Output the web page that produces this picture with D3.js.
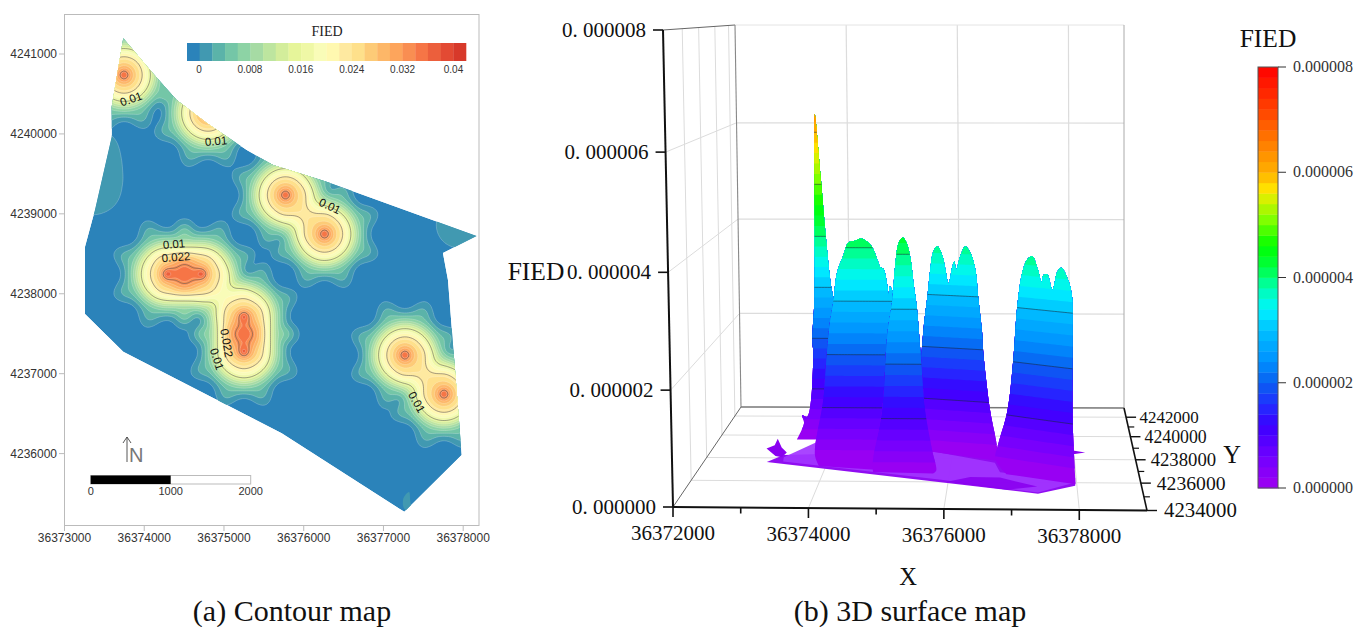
<!DOCTYPE html>
<html><head><meta charset="utf-8">
<script src="https://cdn.jsdelivr.net/npm/d3@7/dist/d3.min.js"></script>
<style>html,body{margin:0;padding:0;background:#fff;overflow:hidden}svg{display:block}
.sans{font-family:"Liberation Sans",Arial,sans-serif}.serif{font-family:"Liberation Serif","Times New Roman",serif}</style>
</head><body><svg id="c" width="1357" height="627"></svg>
<script>
// ---------- (a) contour map data ----------
const mapXTicks=[36373000,36374000,36375000,36376000,36377000,36378000];
const mapYTicks=[4236000,4237000,4238000,4239000,4240000,4241000];
const boundaryX=[36373737,36374072,36374407,36374783,36375285,36375615,36376288,36378169,36377746,36377809,36377981,36377261,36375724,36373737,36373257,36373257,36373382,36373592,36373592];
const boundaryY=[4241196,4240800,4240424,4240136,4239798,4239611,4239402,4238722,4238509,4238171,4235981,4235271,4236256,4237274,4237746,4238588,4239048,4239965,4240340];
const sourceX=[36373734,36374787,36375759,36376248,36374273,36374712,36375238,36375238,36377257,36377746,36373320,36373345,36377935];
const sourceY=[4240750,4240274,4239248,4238760,4238259,4238259,4237733,4237283,4237245,4236757,4239736,4239360,4238872];
const sourceWeight=[1,1,1,1,.96,.96,.96,.96,1,1,.07,.07,.05];
const profileRadius=[0,25,50,100,150,213,275,338,388,438,475,550,625,725];
const profileValue=[.042,.038,.034,.030,.027,.0245,.021,.016,.012,.008,.006,.003,.001,0];
const bandColors=["#2b83ba","#4199b1","#5bb3a9","#74c6a7","#8dd3a5","#a6dba4","#bde59f","#d3ed9b","#e6f59a","#eff8a6","#f9fcb8","#fff8b0","#fee9a0","#fee08b","#fdcb77","#fdb768","#fda55c","#f98e52","#f67546","#ec5f3c","#e34a33","#d7392a"];
const legendTicks=[0,.008,.016,.024,.032,.04];
const contourLevels=[.0165,.0235,.034];
const labelText=["0.01","0.01","0.01","0.01","0.022","0.022","0.01","0.01"];
const labelX=[36373834,36374900,36376329,36374373,36374398,36375034,36374912,36377417];
const labelY=[4240437,4239911,4239098,4238622,4238459,4237383,4237183,4236644];
const labelAngle=[-20,-5,25,-5,-5,80,72,60];
const sliverX=[36373000+4320,36373000+4250,36373000+4255,36373000+4345,36373000+4335];
const sliverY=[4235520,4235440,4235320,4235265,4235420];
const scaleBarTicks=[0,1000,2000];
// ---------- (b) 3D surface data ----------
const xTicks3=[36372000,36374000,36376000,36378000];
const xMinor3=[36373000,36375000,36377000];
const yTicks3=[4234000,4236000,4238000,4240000,4242000];
const yMinor3=[4235000,4237000,4239000,4241000];
const zTicks3=[0,2,4,6,8]; // in 1e-6
const zLines3=[1,2,3,4,5,6];
const r1A=[1.32,1.445,1.413,1.50,1.617,1.602,1.646,1.673,1.695,1.78,1.85,1.925,1.986,2.10,2.086];
const r1Z=[0,.33,.48,.45,1.74,1.94,2.71,4.65,6.34,5.17,4.07,3.1,2.65,.78,0];
const r2A=[1.85,1.786,1.93,2.005,2.06,2.11,2.185,2.286,2.37,2.485,2.57,2.68,2.76,2.84,2.885,2.93,2.99,3.01,3.03,3.08,3.19,3.25];
const r2Z=[-.1,.11,1.13,2.06,2.61,2.93,3.54,3.85,4.09,4.13,4.17,4.11,4.0,3.76,3.63,3.61,3.3,3.13,3.28,3.17,2.06,-.2];
const r3A=[2.79,2.79,2.945,3.04,3.127,3.146,3.18,3.233,3.30,3.36,3.42,3.46,3.506,3.56,3.626,3.73,3.79,3.74];
const r3Z=[.02,.23,1.14,2.53,3.18,3.43,3.84,4.2,4.3,4.2,3.9,3.48,3.07,2.22,1.14,.42,.05,0];
const r4A=[3.38,3.43,3.527,3.60,3.65,3.70,3.77,3.85,3.90,3.95,4.02,4.05,4.08,4.15,4.235,4.32,4.40,4.44,4.50,4.52,4.625,4.735,4.735];
const r4Z=[0,.98,2.34,3.0,3.5,3.82,3.93,3.76,3.5,3.23,3.57,3.65,3.5,3.76,3.95,3.82,3.5,3.0,2.34,1.93,.85,.17,-.1];
const r5A=[4.9,4.72,4.77,4.917,5.017,5.086,5.17,5.25,5.33,5.41,5.47,5.50,5.56,5.64,5.72,5.78,5.88,5.94,5.95,5.945,5.99];
const r5Z=[-.1,.15,.44,1.06,2.02,3.02,3.66,3.9,3.96,3.75,3.51,3.64,3.66,3.39,3.73,3.8,3.6,3.32,2.7,1.1,-.08];
const floorLightA=[1.38,1.90,3.81,4.72,4.80,5.39,5.96,5.40,3.90,1.37];
const floorLightZ=[.28,.56,.39,.2,.03,-.05,-.16,-.34,-.12,.2];
const floorRimA=[1.11,5.40,5.99,5.99,5.59,4.0,1.38];
const floorRimZ=[.19,-.36,-.21,-.07,.07,.42,.32];
const floorSpikeA=[1.11,1.24,1.29,1.35,1.43,1.35,1.25];
const floorSpikeZ=[.44,.5,.62,.46,.37,.28,.3];
const floorSliverA=[5.93,6.15,5.93];
const floorSliverZ=[.44,.4,.36];
const floorPatchA=[3.96,4.33,4.8,5.39,4.91];
const floorPatchZ=[-.15,-.06,-.07,-.23,-.29];
const colorStops=[0,.6,1.2,1.6,2,2.4,3,3.4,3.8,4.2,4.6,5.1,5.5,5.7,6,6.7,7.4,8];
const colorValues=["#a000f0","#7000ff","#3a00ff","#2030ff","#0a60f0","#0090ff","#00c0ff","#00f4ff","#00ffb0","#00ff40","#00ff00","#80ff00","#d8f000","#ffe000","#ffb000","#ff7000","#ff3000","#ff0000"];
const cbarTicks=["0.000000","0.000002","0.000004","0.000006","0.000008"];

const svg=d3.select("#c");
const defs=svg.append("defs");
// ===== left panel =====
const mx=d3.scaleLinear().domain([36373000,36378000]).range([64.5,463.2]);
const my=d3.scaleLinear().domain([4236000,4241000]).range([453.6,54]);
const L=svg.append("g");
L.append("rect").attr("x",64.5).attr("y",14.5).attr("width",414.5).attr("height",511).attr("fill","#fff").attr("stroke","#bbb");
const bpts=boundaryX.map((x,i)=>[mx(x),my(boundaryY[i])]);
defs.append("clipPath").attr("id","bclip").append("path").attr("d",d3.line()(bpts)+"Z");
const G=L.append("g").attr("clip-path","url(#bclip)");
G.append("path").attr("d",d3.line()(bpts)+"Z").attr("fill",bandColors[0]);
// field
const prof=d3.scaleLinear().domain(profileRadius).range(profileValue).clamp(true);
const step=25, gx0=36372900, gy0=4241400, nx=228, ny=280;
let vals=new Float64Array(nx*ny);
for(let j=0;j<ny;j++)for(let i=0;i<nx;i++){
  const X=gx0+i*step,Y=gy0-j*step;let v=0;
  sourceX.forEach((sx,k)=>{
    const dx=X-sx,dy=Y-sourceY[k],r=Math.hypot(dx,dy);
    if(r>1100)return;
    const th=Math.atan2(dy,dx);
    let s=Math.min(1,Math.max(0,(r-438)/190));s=s*s*(3-2*s);
    const f=sourceWeight[k]*prof(r*(1+.12*s*Math.cos(8*th)));
    v+=Math.pow(f,1.5);
  });
  vals[i+j*nx]=Math.pow(v,1/1.5);
}
// light smoothing of the grid
for(let pass=0;pass<2;pass++){
  const o=vals.slice();
  for(let j=1;j<ny-1;j++)for(let i=1;i<nx-1;i++){
    const q=i+j*nx;
    vals[q]=(o[q]*4+(o[q-1]+o[q+1]+o[q-nx]+o[q+nx])*2+o[q-1-nx]+o[q+1-nx]+o[q-1+nx]+o[q+1+nx])/16;
  }
}
const gridPath=d3.geoPath(d3.geoTransform({point(x,y){this.stream.point(mx(gx0+x*step),my(gy0-y*step));}}));
const th=bandColors.slice(1).map((c,i)=>.001+.002*i);
d3.contours().size([nx,ny]).thresholds(th)(vals).forEach((c,i)=>{
  G.append("path").attr("d",gridPath(c)).attr("fill",bandColors[i+1]).attr("stroke","#fff").attr("stroke-opacity",.45).attr("stroke-width",.5);
});
G.append("path").attr("d",d3.line().curve(d3.curveCardinalClosed)(sliverX.map((x,i)=>[mx(x),my(sliverY[i])]))).attr("fill",bandColors[1]);
d3.contours().size([nx,ny]).thresholds(contourLevels)(vals).forEach(c=>{
  G.append("path").attr("d",gridPath(c)).attr("fill","none").attr("stroke","#555").attr("stroke-opacity",.75).attr("stroke-width",.7);
});
labelText.forEach((t,i)=>{
  const x=mx(labelX[i]),y=my(labelY[i]);
  L.append("text").attr("class","sans").attr("transform",`translate(${x},${y}) rotate(${labelAngle[i]})`).attr("text-anchor","middle").attr("dy","0.35em").attr("font-size",11.5).attr("fill","#111").text(t);
});
// axes
mapXTicks.forEach(v=>{
  L.append("line").attr("x1",mx(v)).attr("x2",mx(v)).attr("y1",525.5).attr("y2",531).attr("stroke","#bbb");
  L.append("text").attr("class","sans").attr("x",mx(v)).attr("y",542).attr("text-anchor","middle").attr("font-size",12).attr("fill","#333").text(v);
});
mapYTicks.forEach(v=>{
  L.append("line").attr("x1",59).attr("x2",64.5).attr("y1",my(v)).attr("y2",my(v)).attr("stroke","#bbb");
  L.append("text").attr("class","sans").attr("x",57).attr("y",my(v)+4).attr("text-anchor","end").attr("font-size",12).attr("fill","#333").text(v);
});
// legend
const lx=d3.scaleLinear().domain([-.001,.043]).range([187,466]);
const lt=d3.scaleLinear().domain([0,.04]).range([199,453.5]);
bandColors.forEach((c,i)=>{
  L.append("rect").attr("x",lx(i*.002-.001)).attr("y",43).attr("width",lx(.001)-lx(-.001)+.3).attr("height",18).attr("fill",c);
});
legendTicks.forEach(v=>{
  L.append("text").attr("class","sans").attr("x",lt(v)).attr("y",72.5).attr("text-anchor","middle").attr("font-size",10).attr("fill","#333").text(v);
});
L.append("text").attr("class","serif").attr("x",327).attr("y",36).attr("text-anchor","middle").attr("font-size",14).attr("fill","#222").text("FIED");
// north arrow + scale bar
L.append("path").attr("d","M127 462V437M123 443L127 437L131 443").attr("fill","none").attr("stroke","#444").attr("stroke-width",.9);
L.append("text").attr("class","sans").attr("x",129).attr("y",462).attr("font-size",20).attr("fill","#777").text("N");
const sb=d3.scaleLinear().domain([0,2000]).range([90.7,250.7]);
L.append("rect").attr("x",sb(0)).attr("y",475.5).attr("width",sb(2000)-sb(0)).attr("height",8.5).attr("fill","#fff").attr("stroke","#bbb");
L.append("rect").attr("x",sb(0)).attr("y",475.5).attr("width",sb(1000)-sb(0)).attr("height",8.5).attr("fill","#000");
scaleBarTicks.forEach(v=>L.append("text").attr("class","sans").attr("x",sb(v)).attr("y",495).attr("text-anchor","middle").attr("font-size",11).attr("fill","#333").text(v));
L.append("text").attr("class","serif").attr("x",292).attr("y",621).attr("text-anchor","middle").attr("font-size",30).attr("fill","#111").text("(a) Contour map");

// ===== right panel =====
const R=svg.append("g");
const X0=36372000,X1=36379000;
const xFront=d3.scaleLinear().domain([X0,X1]).range([673,1147]);
const xBack=d3.scaleLinear().domain([X0,X1]).range([741,1124]);
const leanFront=d3.scaleLinear().domain([X0,X1]).range([-10,0]);
const leanBack=d3.scaleLinear().domain([X0,X1]).range([-6,0]);
const baseFront=d3.scaleLinear().domain([X0,X1]).range([507,510.5]);
const baseBack=d3.scaleLinear().domain([X0,X1]).range([407,408]);
const topFront=30,topBack=25;
const tScale=d3.scaleLinear().domain([4234000,4236000,4238000,4240000,4242000,4243000]).range([0,.267,.495,.72,.91,1]);
const wScale=d3.scaleLinear().domain([-2,0,2,4,6,8]).range([-.245,0,.245,.492,.744,1]);
function project(X,Y,Z){
  const t=tScale(Y),w=wScale(Z);
  const xf=xFront(X)+leanFront(X)*w, xb=xBack(X)+leanBack(X)*w;
  const yf=baseFront(X)+(topFront-baseFront(X))*w, yb=baseBack(X)+(topBack-baseBack(X))*w;
  return [xf+(xb-xf)*t, yf+(yb-yf)*t];
}
const Y0=4234000,Y1=4243000,grid="#dcdcdc";
const seg=(a,b,col,wd)=>R.append("line").attr("x1",a[0]).attr("y1",a[1]).attr("x2",b[0]).attr("y2",b[1]).attr("stroke",col).attr("stroke-width",wd);
// back wall grid
zTicks3.slice(1,4).forEach(z=>{
  seg(project(X0,Y1,z),project(X1,Y1,z),grid,1.2);
  seg(project(X0,Y0,z),project(X0,Y1,z),grid,1);
});
xTicks3.slice(1).forEach(x=>{
  seg(project(x,Y1,0),project(x,Y1,8),grid,1.2);
  seg(project(x,Y0,0),project(x,Y1,0),grid,1);
});
yTicks3.slice(1).forEach(y=>{
  seg(project(X0,y,0),project(X0,y,8),grid,1);
  seg(project(X0,y,0),project(X1,y,0),grid,1);
});
seg(project(X0,Y1,8),project(X1,Y1,8),"#e4e4e4",1);
seg(project(X1,Y1,0),project(X1,Y1,8),"#aaa",1);
seg(project(X0,Y0,8),project(X0,Y1,8),"#666",1);
seg(project(X0,Y1,0),project(X0,Y1,8),"#888",1.1);
seg(project(X0,Y0,0),project(X0,Y1,0),"#666",1);
seg(project(X0,Y1,0),project(X1,Y1,0),"#777",1.4);

const bandCol=d3.scaleLinear().domain(colorStops).range(colorValues);
const bands=d3.range(40);
const aToX=a=>X0+a*1000;
const line=d3.line();
const smooth=d3.line().curve(d3.curveCatmullRom.alpha(.5));
const pts=(As,Zs,Yf)=>As.map((a,i)=>project(aToX(a),Yf(aToX(a)),Zs[i]));
const pathOf=(As,Zs,Yf)=>line(pts(As,Zs,Yf))+"Z";
let rid=0;
function ridge(As,Zs,Yf){
  const id="r"+(rid++);
  defs.append("clipPath").attr("id",id).append("path").attr("d",smooth(pts(As,Zs,Yf))+"Z");
  const g=R.append("g").attr("clip-path",`url(#${id})`);
  const xs=d3.range(aToX(d3.min(As))-100,aToX(d3.max(As))+150,50);
  bands.forEach(k=>{
    const z=k===0?-2:k*.2;
    const lo=xs.map(x=>project(x,Yf(x),z)), hi=xs.map(x=>project(x,Yf(x),8)).reverse();
    g.append("path").attr("d",line(lo.concat(hi))+"Z").attr("fill",bandCol((k+.5)*.2));
  });
  zLines3.forEach(z=>{
    g.append("path").attr("d",line(xs.map(x=>project(x,Yf(x),z)))).attr("fill","none").attr("stroke","#1a2a3a").attr("stroke-opacity",.7).attr("stroke-width",.8);
  });
}
const fixedY=y=>(()=>y);
const spanY=(xa,ya,xb,yb)=>d3.scaleLinear().domain([xa,xb]).range([ya,yb]);
ridge(r1A,r1Z,fixedY(4239640));
// floor
const floorY=fixedY(4236730);
const fl=(A,Z,c,o)=>R.append("path").attr("d",pathOf(A,Z,floorY)).attr("fill",c).attr("fill-opacity",o);
fl(floorSpikeA,floorSpikeZ,"#8a00f0",1);
fl(floorSliverA,floorSliverZ,"#8a00f0",1);
fl(floorRimA,floorRimZ,"#8a00f0",.95);
fl(floorLightA,floorLightZ,"#a235ff",.92);
fl(floorPatchA,floorPatchZ,"#8a00f0",.9);
ridge(r2A,r2Z,fixedY(4237780));
ridge(r4A,r4Z,spanY(36375500,4238760,36376600,4238360));
ridge(r3A,r3Z,fixedY(4236730));
ridge(r5A,r5Z,spanY(36376900,4237160,36377950,4236290));

// front axes on top
seg(project(X0,Y0,0),project(X1,Y0,0),"#111",2);
seg(project(X0,Y0,0),project(X0,Y0,8),"#111",2);
seg(project(X1,Y0,0),project(X1,Y1,0),"#111",1.6);
const tl=(x,y,t,a,fs)=>R.append("text").attr("class","serif").attr("x",x).attr("y",y).attr("text-anchor",a).attr("font-size",fs).attr("fill","#111").text(t);
xTicks3.forEach(v=>{const p=project(v,Y0,0);seg(p,[p[0],p[1]+10],"#111",1.6);tl(p[0],p[1]+33,v,"middle",21);});
xMinor3.forEach(v=>{const p=project(v,Y0,0);seg(p,[p[0],p[1]+6],"#111",1.6);});
yTicks3.forEach(v=>{const p=project(X1,v,0),t=tScale(v),fs=20.8-4.2*t;seg(p,[p[0]+10,p[1]],"#111",1.4);tl(p[0]+17-4*t,p[1]+fs/3,v,"start",fs);});
yMinor3.forEach(v=>{const p=project(X1,v,0);seg(p,[p[0]+6,p[1]],"#111",1.2);});
zTicks3.forEach(v=>{const p=project(X0,Y0,v);seg(p,[p[0]-10,p[1]],"#111",1.6);
  tl(p[0]-17,p[1]+7,"0. 00000"+v,"end",21);});
tl(536,280,"FIED","middle",25.5);
tl(908,585,"X","middle",24.5);
tl(1232,463,"Y","middle",24.5);
tl(910,621,"(b) 3D surface map","middle",30);
// colour bar
const cb=d3.scaleLinear().domain([0,8]).range([488,67]);
bands.forEach(k=>{
  R.append("rect").attr("x",1258).attr("width",20).attr("y",cb((k+1)*.2)).attr("height",cb(0)-cb(.2)+.4).attr("fill",bandCol((k+.5)*.2));
});
R.append("rect").attr("x",1258).attr("y",67).attr("width",20).attr("height",421).attr("fill","none").attr("stroke","#555").attr("stroke-width",1);
cbarTicks.forEach((t,i)=>{
  const y=cb(i*2);
  seg([1278,y],[1286,y],"#333",1);
  R.append("text").attr("class","serif").attr("x",1293).attr("y",y+5).attr("font-size",16).attr("fill","#333").text(t);
});
tl(1268,47,"FIED","middle",25.5);
</script></body></html>
